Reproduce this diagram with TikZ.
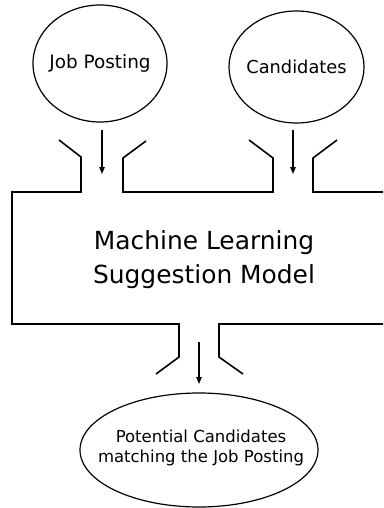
\documentclass[tikz,border=0pt]{standalone}
\usepackage{fontspec}
\setmainfont{DejaVu Sans}
\usetikzlibrary{arrows.meta,shapes.geometric}
\begin{document}
\begin{tikzpicture}[x=1pt,y=-1pt,
  blob/.style={draw,ellipse,inner sep=0pt,line width=1.2pt},
  wall/.style={draw,line width=1.6pt,line join=miter},
  flow/.style={draw,line width=1.2pt,-{Triangle[length=7pt,width=5.5pt]}}]
\useasboundingbox (0,0) rectangle (383,508);

% input sources
\node[blob,minimum width=134pt,minimum height=117pt] (jp) at (100,63.5) {};
\node[font=\fontsize{18.4}{20}\selectfont] (jpt) at (jp.center) {Job Posting};
\node[blob,minimum width=135pt,minimum height=112pt] (cd) at (296.5,67) {};
\node[font=\fontsize{17.8}{20}\selectfont] (cdt) at (cd.center) {Candidates};

% result
\node[blob,minimum width=238pt,minimum height=114pt] (pc) at (199,450) {};
\node[align=center,font=\fontsize{16.5}{20.5}\selectfont] (pct) at (201,448) {Potential Candidates\\matching the Job Posting};

% model body with its inlet and outlet funnels
\draw[wall] (59,140) -- (81,157) -- (81,192) -- (12,192) -- (12,324) -- (179,324) -- (179,357) -- (156,374);
\draw[wall] (146,141) -- (123,158) -- (123,192) -- (273,192) -- (273,158) -- (249,140);
\draw[wall] (337,140) -- (313,158) -- (313,192) -- (383,192);
\draw[wall] (243,374) -- (219,357) -- (219,324) -- (383,324);

\node[align=center,font=\fontsize{24.9}{34}\selectfont] (ml) at (204,260) {Machine Learning\\Suggestion Model};

% arrow ends
\coordinate (a1s) at (102,130);
\coordinate (a1e) at (102,174);
\coordinate (a2s) at (293,130);
\coordinate (a2e) at (293,174);
\coordinate (a3s) at (199,342);
\coordinate (a3e) at (199,384);

\draw[flow] (a1s) -- (a1e);
\draw[flow] (a2s) -- (a2e);
\draw[flow] (a3s) -- (a3e);
\end{tikzpicture}
\end{document}
